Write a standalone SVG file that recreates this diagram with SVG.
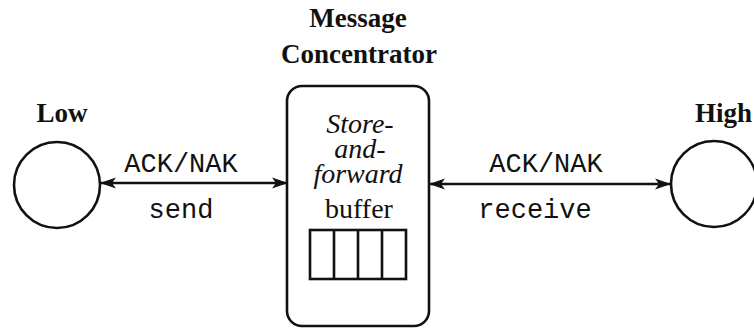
<svg xmlns="http://www.w3.org/2000/svg" width="754" height="330" viewBox="0 0 754 330">
  <style>
    .shape { fill: none; stroke: #111; stroke-width: 2.6; }
    .link { fill: none; stroke: #111; stroke-width: 2.6; }
    .title { font-family: "Liberation Serif", "Times New Roman", serif; font-weight: bold; font-size: 27px; fill: #111; text-anchor: middle; }
    .box-text { font-family: "Liberation Serif", "Times New Roman", serif; font-size: 28px; fill: #111; text-anchor: middle; }
    .ital { font-style: italic; }
    .mono { font-family: "Liberation Mono", "Courier New", monospace; font-size: 27px; fill: #111; text-anchor: middle; }
  </style>
  <defs>
    <marker id="arrow" viewBox="0 0 16 12" refX="15" refY="6" markerWidth="16" markerHeight="12" markerUnits="userSpaceOnUse" orient="auto-start-reverse">
      <path d="M0,0.5 L16,6 L0,11.5 L4,6 Z" fill="#111"/>
    </marker>
  </defs>

  <!-- Low node -->
  <g id="low">
    <circle class="shape" cx="57" cy="185" r="43"/>
    <text class="title" x="62" y="122">Low</text>
  </g>

  <!-- Message concentrator with store-and-forward buffer -->
  <g id="concentrator">
    <text class="title" x="358" y="27">Message</text>
    <text class="title" x="359" y="63">Concentrator</text>
    <rect class="shape" x="287" y="86" width="142" height="240" rx="15" ry="15"/>
    <text class="box-text ital" x="360" y="133">Store-</text>
    <text class="box-text ital" x="360" y="158">and-</text>
    <text class="box-text ital" x="358" y="183">forward</text>
    <text class="box-text" x="359" y="218">buffer</text>
    <g id="buffer-slots">
      <rect class="shape" x="310" y="230" width="96" height="49"/>
      <line class="shape" x1="334" y1="230" x2="334" y2="279"/>
      <line class="shape" x1="358" y1="230" x2="358" y2="279"/>
      <line class="shape" x1="382" y1="230" x2="382" y2="279"/>
    </g>
  </g>

  <!-- High node -->
  <g id="high">
    <circle class="shape" cx="714" cy="184" r="43"/>
    <text class="title" x="695" y="122" style="text-anchor:start">High</text>
  </g>

  <!-- Connectors -->
  <g id="connectors">
    <line class="link" x1="101" y1="183" x2="287" y2="183" marker-start="url(#arrow)" marker-end="url(#arrow)"/>
    <text class="mono" x="181" y="172">ACK/NAK</text>
    <text class="mono" x="181" y="218">send</text>
    <line class="link" x1="430" y1="184" x2="670" y2="184" marker-start="url(#arrow)" marker-end="url(#arrow)"/>
    <text class="mono" x="546" y="172">ACK/NAK</text>
    <text class="mono" x="535" y="218">receive</text>
  </g>
</svg>
